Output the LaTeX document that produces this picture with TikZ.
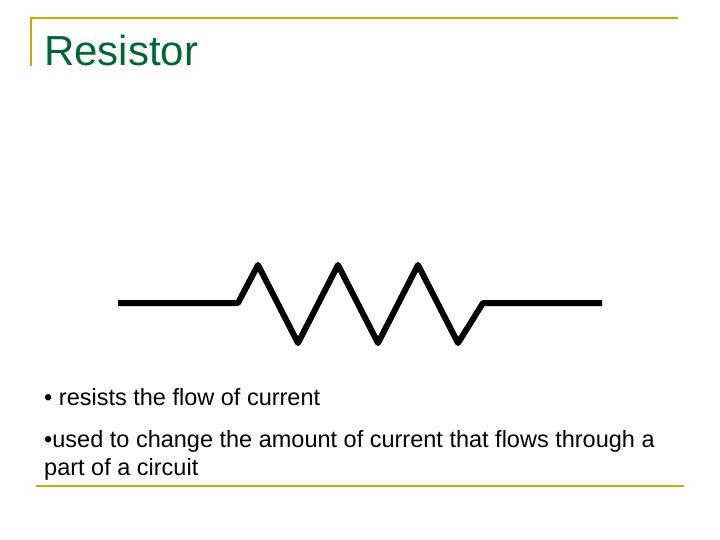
\documentclass[tikz,border=0pt]{standalone}
\usepackage{fontspec}
\setmainfont{Liberation Sans}
\definecolor{gold}{RGB}{204,170,0}
\definecolor{tgreen}{RGB}{0,102,51}
\begin{document}
\begin{tikzpicture}[x=1pt,y=-1pt,
  rule/.style={gold,line width=2.5pt},
  txt/.style={anchor=west,inner sep=0pt,font=\fontsize{23.5}{27}\selectfont}]
\useasboundingbox (0,0) rectangle (720,540);
\draw[rule] (30,18) -- (678,18);
\draw[rule] (31,17) -- (31,66);
\draw[rule] (36,486) -- (684,486);
\node[anchor=base west,inner sep=0pt,text=tgreen,font=\fontsize{42}{46}\selectfont] (title) at (44,66) {Resistor};
\draw[line width=6pt,line join=round,line cap=butt] (118,303) -- (238,303) -- (258,265) -- (298,343) -- (338,265) -- (378,343) -- (418,265) -- (458,343) -- (483,303) -- (602,303);
\node[txt] (b1) at (44,397) {• resists the flow of current};
\node[txt] (b2) at (44,441) {•used to change the amount of current that flows through a};
\node[txt] (b3) at (44,469) {part of a circuit};
\end{tikzpicture}
\end{document}
